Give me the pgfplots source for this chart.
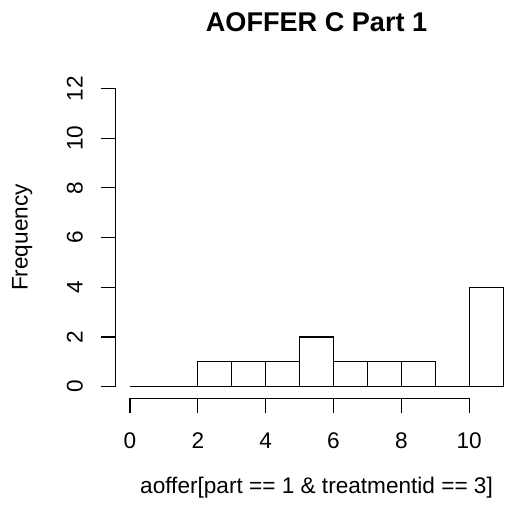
\documentclass[border=0pt]{standalone}
\usepackage{fontspec}
\setmainfont{Liberation Sans}
\usepackage{pgfplots}
\pgfplotsset{compat=1.18}
\begin{document}
\begin{tikzpicture}[x=1pt,y=1pt]
\begin{axis}[
  at={(115.1pt,113.4pt)}, anchor=south west,
  scale only axis, width=402.9pt, height=322pt,
  xmin=-0.44, xmax=11.44, ymin=-0.48, ymax=12.48,
  clip=false,
  axis line style={draw=none},
  tick pos=left, tick align=outside,
  major tick length=14pt,
  every tick/.style={black, line width=1.1pt},
  xtick={0,2,4,6,8,10}, ytick={0,2,4,6,8,10,12},
  minor tick num=0,
  /pgf/number format/assume math mode=true,
  tick label style={font=\fontsize{22.6}{27}\selectfont, inner sep=0pt},
  xticklabel style={anchor=base, yshift=-35.8pt},
  yticklabel style={xshift=-18.4pt, rotate=90, anchor=base},
  title={\bfseries AOFFER C Part 1},
  every axis title/.style={at={(axis description cs:0.5,1)}, anchor=base, yshift=44.6pt, font=\fontsize{27.1}{32}\selectfont, inner sep=0pt},
  xlabel={aoffer[part == 1 \& treatmentid == 3]},
  every axis x label/.style={at={(axis description cs:0.5,0)}, anchor=base, yshift=-94.4pt, font=\fontsize{22.6}{27}\selectfont, inner sep=0pt},
  ylabel={Frequency},
  every axis y label/.style={at={(axis description cs:-0.2174,0.5)}, rotate=90, anchor=base, font=\fontsize{22.6}{27}\selectfont, inner sep=0pt},
]
\addplot[ybar interval, fill=white, draw=black, line width=1.1pt] coordinates {
(0,0) (1,0) (2,1) (3,1) (4,1) (5,2) (6,1) (7,1) (8,1) (9,0) (10,4) (11,4)
};
\draw[line width=1.1pt, line cap=rect] (axis cs:0,-0.48) -- (axis cs:10,-0.48);
\draw[line width=1.1pt, line cap=rect] (axis cs:-0.44,0) -- (axis cs:-0.44,12);
\end{axis}
\pgfresetboundingbox
\path[use as bounding box] (0,0) rectangle (505,512);
\end{tikzpicture}
\end{document}
